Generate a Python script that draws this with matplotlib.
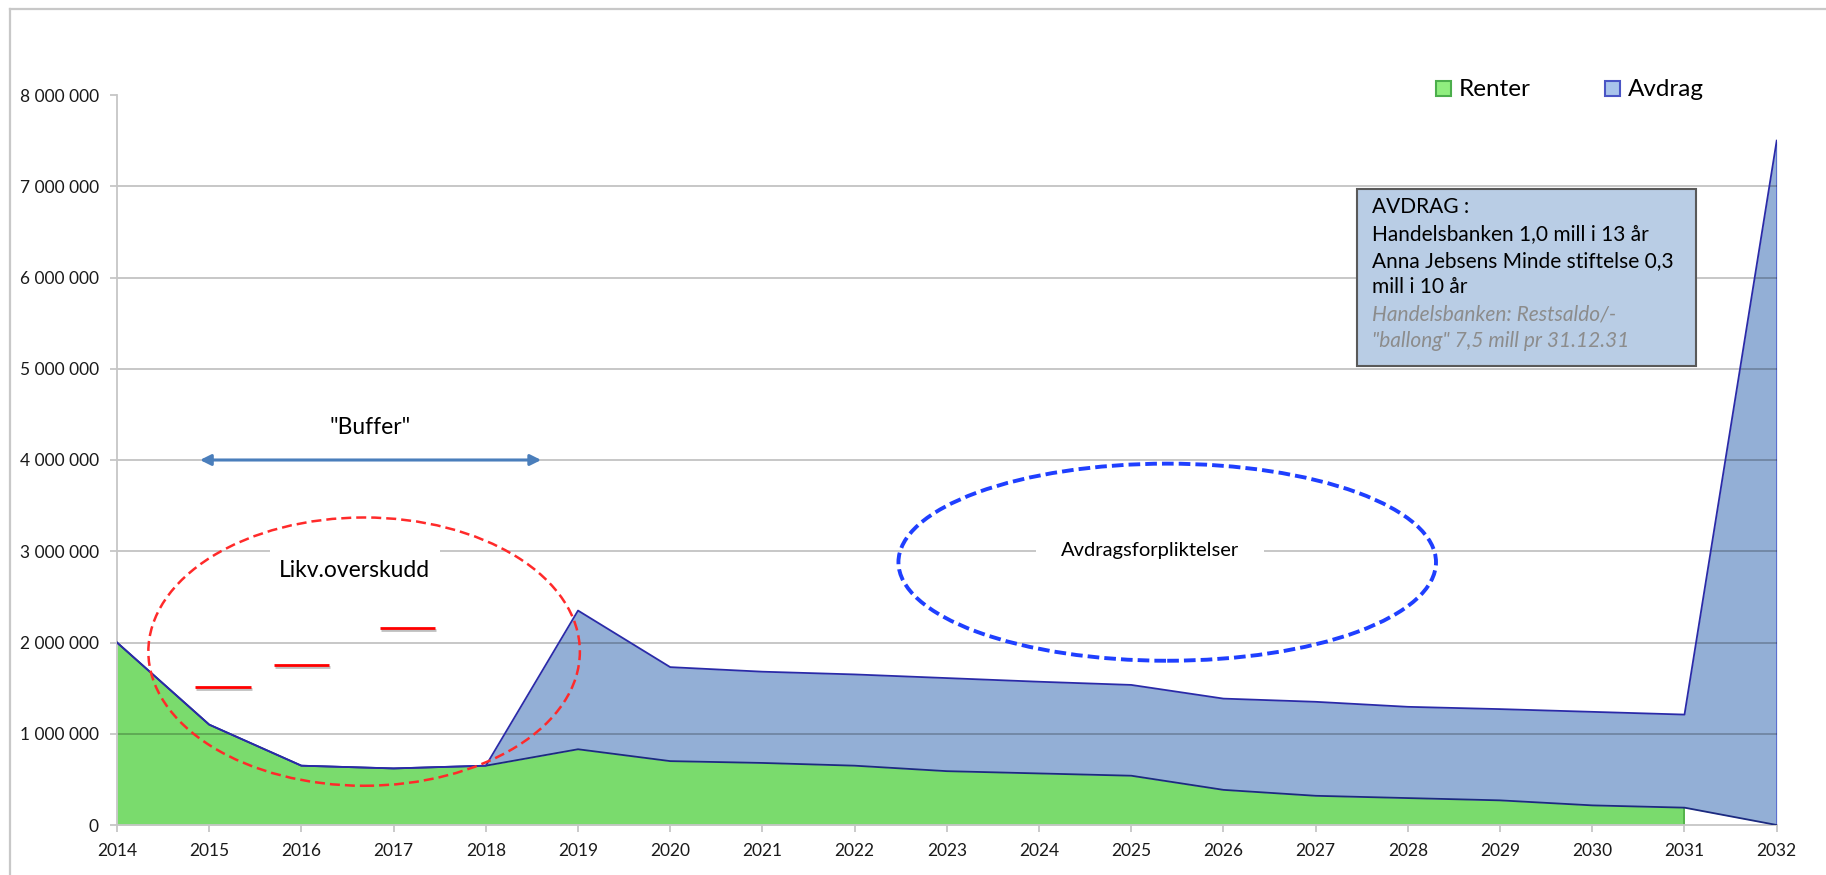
import numpy as np
import matplotlib
matplotlib.use("Agg")
import matplotlib.pyplot as plt
import matplotlib.patches as mpatches
import matplotlib.patheffects as pe
from matplotlib.lines import Line2D
from matplotlib.ticker import FuncFormatter, MultipleLocator

plt.rcParams['font.family'] = ['Lato', 'DejaVu Sans']

# data (NOK per year)
years = list(range(2014, 2033))
renter = [2000000, 1100000, 650000, 620000, 650000, 830000, 700000, 680000, 650000,
          590000, 565000, 540000, 385000, 320000, 295000, 270000, 215000, 190000, 0]
avdrag = [0, 0, 0, 0, 0, 1520000, 1030000, 1000000, 1000000, 1020000, 1005000,
          995000, 1000000, 1030000, 1000000, 1000000, 1025000, 1020000, 7500000]

# "Likv.overskudd" markers (red dashes)
surplus_years = [2015.15, 2016.0, 2017.15]
surplus_values = [1510000, 1750000, 2160000]

legend_labels = ['Renter', 'Avdrag']
box_lines = ['AVDRAG :',
             'Handelsbanken 1,0 mill i 13 år',
             'Anna Jebsens Minde stiftelse 0,3',
             'mill i 10 år']
box_notes = ['Handelsbanken: Restsaldo/-',
             '"ballong" 7,5 mill pr 31.12.31']

W, H = 1826, 875
def fx(px):
    return px / W
def fy(py):
    return 1 - py / H

yrs = np.array(years)
r = np.array(renter)
tot = r + np.array(avdrag)

fig = plt.figure(figsize=(W / 100, H / 100), dpi=100)
ax = fig.add_axes([fx(117), fy(825), fx(1776.7) - fx(117), fy(95) - fy(825)])

green = '#7adb6d'
blue = '#93afd6'
ax.fill_between(yrs, 0, r, where=yrs <= 2031, color=green, lw=0, zorder=1)
ax.fill_between(yrs, r, tot, color=blue, lw=0, zorder=1)
ax.vlines(yrs[-2], 0, r[-2], color='#52b048', lw=1.3, zorder=2)
ax.vlines(yrs[-1], r[-1], tot[-1], color='#5b6ed0', lw=1.4, zorder=2)
ax.plot(yrs, r, color='#1c2a80', lw=1.3, zorder=3)
ax.plot(yrs, tot, color='#2a2aa8', lw=1.3, zorder=3)

# gridlines over the areas
for v in range(1, 8):
    ax.axhline(v * 1e6, color='black', alpha=0.22, lw=1.4, zorder=2)

ax.set_xlim(2014, 2032)
ax.set_ylim(0, 8e6)
ax.set_xticks(years)
ax.yaxis.set_major_locator(MultipleLocator(1e6))
ax.yaxis.set_major_formatter(FuncFormatter(lambda v, p: f"{int(v):,}".replace(",", " ")))
for s in ['top', 'right']:
    ax.spines[s].set_visible(False)
for s in ['left', 'bottom']:
    ax.spines[s].set_color('#c6c6c6')
    ax.spines[s].set_linewidth(1.3)
ax.tick_params(axis='both', color='#c6c6c6', width=1.3, length=5, labelsize=12.5,
               labelcolor='#1a1a1a')
ax.tick_params(axis='y', pad=8)
ax.tick_params(axis='x', pad=8)

# annotations
ax.add_patch(mpatches.Ellipse((2016.68, 1.90e6), 4.68, 2.94e6, fill=False,
                              ec='#ff2a2a', lw=1.8, ls=(0, (4, 2)), zorder=4))
ax.add_patch(mpatches.Ellipse((2025.39, 2.88e6), 5.83, 2.16e6, fill=False,
                              ec='#1f3fff', lw=2.8, ls=(0, (3, 1.3)), zorder=4))
ax.hlines(surplus_values, np.array(surplus_years) - 0.3, np.array(surplus_years) + 0.3,
          color='#ff0000', lw=2, zorder=4,
          path_effects=[pe.SimpleLineShadow(offset=(0.8, -1.5), alpha=0.25), pe.Normal()])

ax.text(2016.58, 2.79e6, 'Likv.overskudd', fontsize=16.5, ha='center', va='center',
        zorder=5, bbox=dict(fc='white', ec='none', pad=7))
ax.text(2025.2, 3.01e6, 'Avdragsforpliktelser', fontsize=14.5, ha='center', va='center',
        zorder=5, bbox=dict(fc='white', ec='none', pad=18))
ax.text(2016.74, 4.36e6, '"Buffer"', fontsize=16.5, ha='center', va='center', zorder=5)
ax.annotate('', xy=(2018.6, 4.0e6), xytext=(2014.9, 4.0e6), zorder=5,
            arrowprops=dict(arrowstyle='<|-|>', color='#4a7ebb', lw=2.2,
                            mutation_scale=16, shrinkA=0, shrinkB=0))

# frame lines of the chart area
fig.add_artist(Line2D([fx(10), fx(10)], [fy(9), 0], color='#c8c8c8', lw=1.6))
fig.add_artist(Line2D([fx(10), 1], [fy(9), fy(9)], color='#c8c8c8', lw=1.6))

# legend
leg_specs = [(1436, '#90ee7f', '#4cae4c', 1459), (1605, '#a9c4eb', '#4a55c5', 1628)]
for (px, fc, ec, tx), lab in zip(leg_specs, legend_labels):
    fig.add_artist(mpatches.Rectangle((fx(px), fy(96)), 15 / W, 15 / H, fc=fc, ec=ec,
                                      lw=1.5, transform=fig.transFigure))
    fig.text(fx(tx), fy(89), lab, fontsize=17.5, va='center', ha='left')

# text box
fig.add_artist(mpatches.Rectangle((fx(1357), fy(366)), (1696 - 1357) / W, (366 - 189) / H,
                                  fc='#b9cde5', ec='#595959', lw=1.5,
                                  transform=fig.transFigure, zorder=5))
for i, line in enumerate(box_lines + box_notes):
    note = line in box_notes
    fig.text(fx(1372), fy(207 + i * 26.8), line, fontsize=15, va='center', ha='left',
             color='#8c8c8c' if note else 'black', style='italic' if note else 'normal',
             zorder=6)

fig.savefig('out.png', dpi=100)
